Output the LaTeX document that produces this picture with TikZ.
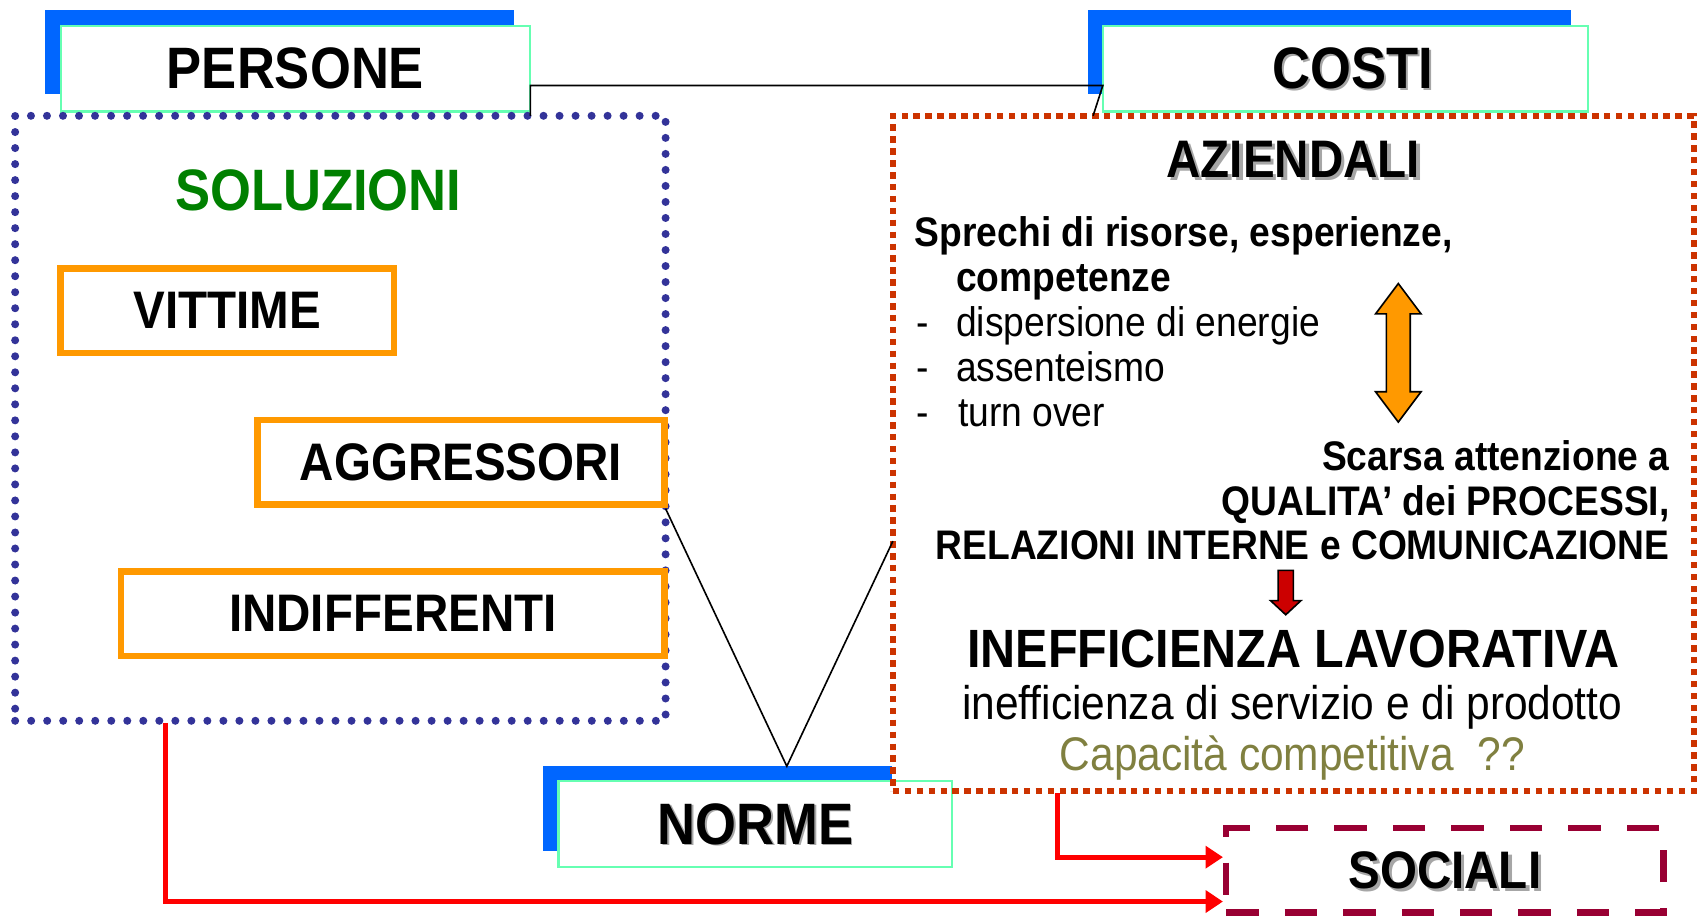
\documentclass[tikz,border=0pt]{standalone}
\usepackage{fontspec}
\setmainfont{Liberation Sans}[FakeStretch=0.9]
\usetikzlibrary{arrows.meta,fit}
\definecolor{barblue}{RGB}{0,102,255}
\definecolor{mint}{RGB}{102,255,178}
\definecolor{dotblue}{RGB}{51,51,153}
\definecolor{orangeC}{RGB}{255,153,0}
\definecolor{brick}{RGB}{204,51,0}
\definecolor{solgreen}{RGB}{0,128,0}
\definecolor{maroonC}{RGB}{153,0,51}
\definecolor{arrred}{RGB}{255,0,0}
\definecolor{oliveC}{RGB}{128,128,64}
\definecolor{darkredC}{RGB}{204,0,0}
\begin{document}
\begin{tikzpicture}[x=0.5pt,y=-0.5pt,
  titlebox/.style={draw=mint,line width=1pt,fill=white,inner sep=0pt},
  ttl/.style={inner sep=0pt,font=\fontsize{27}{32}\selectfont\bfseries},
  orangebox/.style={draw=orangeC,line width=3pt,inner sep=0pt},
  otxt/.style={inner sep=0pt,font=\fontsize{24.4}{29}\selectfont\bfseries},
  soldots/.style={draw=dotblue,line width=3.7pt,line cap=round,dash pattern=on 0pt off 7.4pt,inner sep=0pt},
  brickdots/.style={draw=brick,line width=3pt,dash pattern=on 3pt off 2.5pt,inner sep=0pt},
  socbox/.style={draw=maroonC,line width=3pt,dash pattern=on 15pt off 12pt,inner sep=0pt},
  redarrow/.style={draw=arrred,line width=2.2pt,-{Triangle[length=8pt,width=10pt]}},
  thinline/.style={draw=black,line width=0.75pt},
  bodyb/.style={inner sep=0pt,font=\fontsize{19.1}{23}\selectfont\bfseries},
  body/.style={inner sep=0pt,font=\fontsize{19.1}{23}\selectfont},
  bigb/.style={inner sep=0pt,font=\fontsize{24.9}{29}\selectfont\bfseries},
  med/.style={inner sep=0pt,font=\fontsize{21.8}{26}\selectfont},
  shadowtxt/.style={text=black!35}
]
\useasboundingbox (0,0) rectangle (1568,852);

% blue bars behind title boxes
\fill[barblue] (42,9) rectangle (475,87);
\fill[barblue] (1005,9) rectangle (1452,87);
\fill[barblue] (502,708) rectangle (824,786);

% title boxes
\node[titlebox, fit={(56,24) (490,103)}] (persone) {};
\node[titlebox, fit={(1019,24) (1467,103)}] (costi) {};
\node[titlebox, fit={(516,722) (880,801)}] (norme) {};

\node[ttl] (tpersone) at (persone.center) {PERSONE};
\node[ttl,shadowtxt] at ([shift={(8.5,1.5)}]costi.center) {COSTI};
\node[ttl] (tcosti) at ([xshift=3.5pt]costi.center) {COSTI};
\node[ttl,shadowtxt] at ([shift={(1.5,1.5)}]norme.center) {NORME};
\node[ttl] (tnorme) at (norme.center) {NORME};

% soluzioni box
\node[soldots, fit={(14,107) (615,666)}] (sol) {};
\node[ttl, text=solgreen] (tsol) at (294,176) {SOLUZIONI};

\node[orangebox, fit={(56,248) (364,326)}] (vitt) {};
\node[otxt] at (vitt.center) {VITTIME};
\node[orangebox, fit={(238,388) (614,466)}] (aggr) {};
\node[otxt] at (aggr.center) {AGGRESSORI};
\node[orangebox, fit={(112,528) (614,606)}] (indi) {};
\node[otxt] at (indi.center) {INDIFFERENTI};

% aziendali box
\node[brickdots, fit={(825,107) (1565,731)}] (azi) {};
\node[otxt,shadowtxt] at (1198,150) {AZIENDALI};
\node[otxt] (tazi) at (1195,147) {AZIENDALI};

\node[bodyb, anchor=base west] (l1) at (845,228) {Sprechi di risorse, esperienze,};
\node[bodyb, anchor=base west] (l2) at (883,269) {competenze};
\node[body, anchor=base west] (d1) at (846,311) {-};
\node[body, anchor=base west] (l3) at (883,311) {dispersione di energie};
\node[body, anchor=base west] (d2) at (846,352.5) {-};
\node[body, anchor=base west] (l4) at (883,352.5) {assenteismo};
\node[body, anchor=base west] (d3) at (846,394) {-};
\node[body, anchor=base west] (l5) at (885,394) {turn over};

\node[bodyb, anchor=base east] (r1) at (1543,435) {Scarsa attenzione a};
\node[bodyb, anchor=base east] (r2) at (1543,476) {QUALITA’ dei PROCESSI,};
\node[bodyb, anchor=base east] (r3) at (1543,517) {RELAZIONI INTERNE e COMUNICAZIONE};

\node[bigb, anchor=base] (ineff) at (1195,617) {INEFFICIENZA LAVORATIVA};
\node[med, anchor=base] (serv) at (1194,665) {inefficienza di servizio e di prodotto};
\node[med, anchor=base, text=oliveC] (capa) at (1194,712) {Capacità competitiva\ \ ??};

% orange double arrow
\filldraw[fill=orangeC, draw=black, line width=0.75pt]
  (1292,262) -- (1313,290) -- (1303,290) -- (1303,362) -- (1313,362) -- (1292,390)
  -- (1271,362) -- (1281,362) -- (1281,290) -- (1271,290) -- cycle;
% red down arrow
\filldraw[fill=darkredC, draw=black, line width=0.75pt]
  (1181,527) -- (1195,527) -- (1195,555) -- (1202,555) -- (1188,568) -- (1174,555) -- (1181,555) -- cycle;

% sociali box
\node[socbox, fit={(1133,765) (1537,843)}] (soc) {};
\node[otxt,shadowtxt] at (1338,807) {SOCIALI};
\node[otxt] (tsoc) at (1335,804) {SOCIALI};

% connectors
\coordinate (j1) at (490,107);
\coordinate (j2) at (1019,79);
\coordinate (j3) at (1010,107);
\draw[thinline] (j1) |- (j2) -- (j3);

\coordinate (v1) at (615,470);
\coordinate (v2) at (727,708);
\coordinate (v3) at (825,500);
\draw[thinline] (v1) -- (v2) -- (v3);

\coordinate (a1) at (977,733);
\coordinate (a2) at (153,668);
\draw[redarrow] (a1) |- (soc.west |- 0,792);
\draw[redarrow] (a2) |- (soc.west |- 0,833);
\end{tikzpicture}
\end{document}
